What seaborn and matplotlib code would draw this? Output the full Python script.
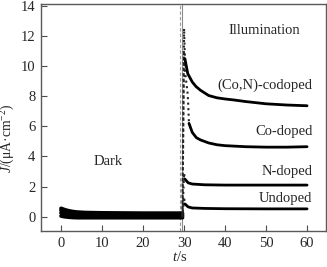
import matplotlib
matplotlib.use("Agg")
import matplotlib.pyplot as plt
import numpy as np
import pandas as pd
import seaborn as sns

# ---------------- data ----------------
series = ["(Co,N)-codoped", "Co-doped", "N-doped", "Undoped"]

t_dark = [0, 0.5, 1, 2, 3, 4, 6, 10, 15, 20, 25, 29.6]
J_dark = {
    "(Co,N)-codoped": [0.55, 0.50, 0.45, 0.38, 0.33, 0.30, 0.27, 0.25, 0.24, 0.23, 0.23, 0.23],
    "Co-doped":       [0.42, 0.37, 0.32, 0.26, 0.22, 0.19, 0.16, 0.14, 0.13, 0.13, 0.13, 0.13],
    "N-doped":        [0.25, 0.20, 0.16, 0.11, 0.08, 0.06, 0.05, 0.04, 0.04, 0.04, 0.04, 0.04],
    "Undoped":        [0.05, 0.02, 0.00, -0.03, -0.05, -0.06, -0.06, -0.06, -0.06, -0.06, -0.06, -0.06],
}

# fast (sparsely sampled, drawn dotted) part right after switching the light on
t_fast = {
    "(Co,N)-codoped": [29.6, 30.0, 30.2],
    "Co-doped":       [29.6, 30.0, 30.3, 30.9, 31.2],
    "N-doped":        [29.6, 30.0, 30.2],
    "Undoped":        [29.6, 30.0, 30.2],
}
J_fast = {
    "(Co,N)-codoped": [0.23, 12.5, 10.5],
    "Co-doped":       [0.13, 11.0, 9.5, 8.1, 6.2],
    "N-doped":        [0.04, 2.9, 2.5],
    "Undoped":        [-0.06, 1.3, 0.85],
}

# slow decay under illumination (solid)
t_light = {
    "(Co,N)-codoped": [30.2, 30.9, 32, 32.9, 34, 36, 38, 40, 42, 45, 50, 55, 60],
    "Co-doped":       [31.2, 32, 33, 34, 36, 38, 40, 45, 50, 55, 60],
    "N-doped":        [30.2, 31, 32, 35, 40, 50, 60],
    "Undoped":        [30.2, 31, 32, 35, 40, 50, 60],
}
J_light = {
    "(Co,N)-codoped": [10.5, 9.5, 8.95, 8.65, 8.4, 8.05, 7.9, 7.82, 7.76, 7.65, 7.5, 7.42, 7.37],
    "Co-doped":       [6.2, 5.6, 5.25, 5.1, 4.9, 4.78, 4.72, 4.65, 4.62, 4.62, 4.65],
    "N-doped":        [2.5, 2.25, 2.17, 2.12, 2.1, 2.1, 2.1],
    "Undoped":        [0.85, 0.65, 0.58, 0.55, 0.53, 0.52, 0.52],
}

label_y = {"(Co,N)-codoped": 8.76, "Co-doped": 5.64, "N-doped": 2.99, "Undoped": 1.19}

x_ticks = [0, 10, 20, 30, 40, 50, 60]
y_ticks = [0, 2, 4, 6, 8, 10, 12, 14]

# ---------------- build tables ----------------
def table(tdict, jdict):
    rows = []
    for s in series:
        t = tdict[s] if isinstance(tdict, dict) else tdict
        for ti, ji in zip(t, jdict[s]):
            rows.append((s, ti, ji))
    return pd.DataFrame(rows, columns=["series", "t", "J"])

df_dark = table(t_dark, J_dark)
df_fast = table(t_fast, J_fast)
df_light = table(t_light, J_light)

# ---------------- plot ----------------
sns.set_theme(style="ticks")
plt.rcParams["font.family"] = ["Liberation Serif", "DejaVu Serif"]
plt.rcParams["mathtext.fontset"] = "custom"
plt.rcParams["mathtext.rm"] = "Liberation Serif"
plt.rcParams["mathtext.it"] = "Liberation Serif:italic"

fig = plt.figure(figsize=(3.27, 2.67), dpi=100)
ax = fig.add_axes([41 / 327, 1 - 231 / 267, 284.5 / 327, 227 / 267])

ax.axvline(29.0, color="0.6", lw=0.8, ls=(0, (3, 2)), zorder=1)
ax.axvline(29.4, color="0.55", lw=0.8, zorder=1)

black = {s: "black" for s in series}
sns.lineplot(data=df_dark, x="t", y="J", hue="series", palette=black, units="series",
             estimator=None, sort=False, lw=2.8, legend=False, ax=ax)
sns.lineplot(data=df_fast, x="t", y="J", hue="series", palette={s: "0.15" for s in series},
             units="series", estimator=None, sort=False, lw=1.5, ls=":", legend=False, ax=ax)
sns.lineplot(data=df_light, x="t", y="J", hue="series", palette=black, units="series",
             estimator=None, sort=False, lw=2.0, legend=False, ax=ax)

fs = 10.5
for s in series:
    ax.text(61.3, label_y[s], s, ha="right", va="center", fontsize=fs)
ax.text(49.5, 12.4, "Illumination", ha="center", va="center", fontsize=fs)
ax.text(11.5, 3.65, "Dark", ha="center", va="center", fontsize=fs)

ax.set_xlim(-4.9, 64.5)
ax.set_ylim(-0.95, 14.13)
ax.set_xticks(x_ticks)
ax.set_yticks(y_ticks)
ax.set_xticklabels([str(v) for v in x_ticks])
ax.set_yticklabels([str(v) for v in y_ticks])
ax.tick_params(direction="in", length=4, width=0.8, labelsize=fs, pad=4, color="0.3")

for sp in ax.spines.values():
    sp.set_visible(True)
    sp.set_color("0.35")
    sp.set_linewidth(1.0)

ax.set_xlabel("$t$/s", fontsize=fs)
ax.set_ylabel("$J$/(μA·cm$^{-2}$)", fontsize=9.8)
ax.xaxis.set_label_coords(0.489, -0.085)
ax.yaxis.set_label_coords(-0.085, 0.41)

fig.savefig("out.png", dpi=100)
